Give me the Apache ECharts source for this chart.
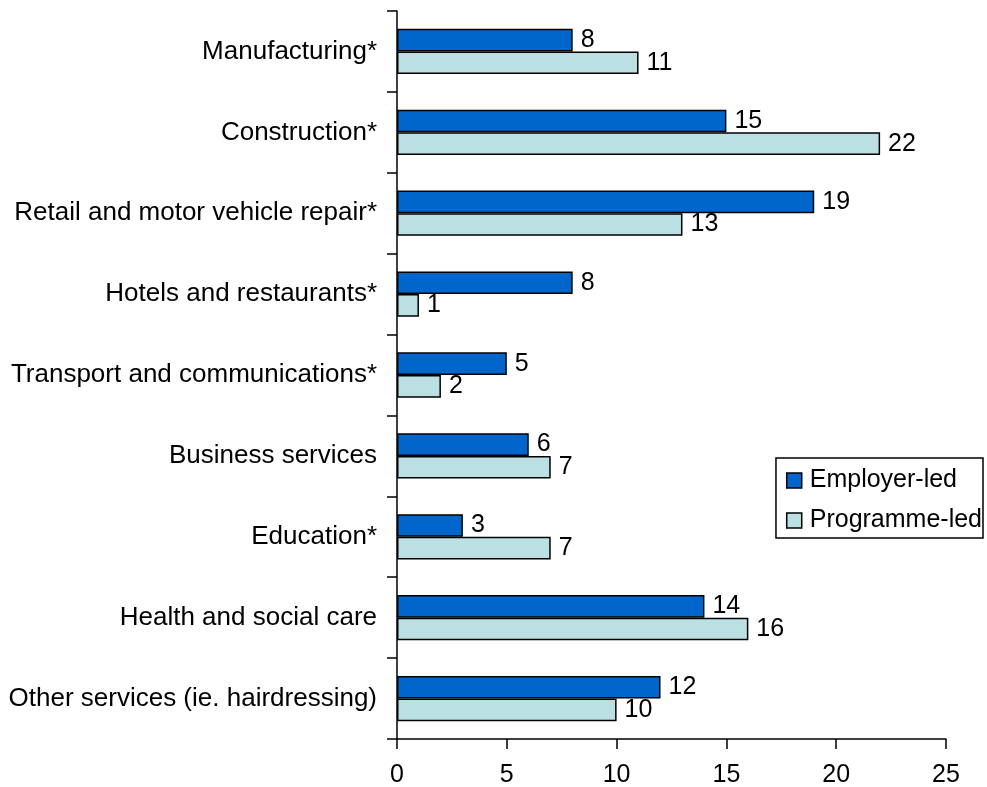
<!DOCTYPE html>
<html>
<head>
<meta charset="utf-8">
<script src="https://cdn.jsdelivr.net/npm/echarts@6/dist/echarts.min.js"></script>
<style>
  html, body { margin: 0; padding: 0; background: #ffffff; }
  #chart { width: 987px; height: 787px; }
</style>
</head>
<body>
<div id="chart"></div>
<script>
// Sectors, listed top to bottom
const categories = [
  'Manufacturing*',
  'Construction*',
  'Retail and motor vehicle repair*',
  'Hotels and restaurants*',
  'Transport and communications*',
  'Business services',
  'Education*',
  'Health and social care',
  'Other services (ie. hairdressing)'
];
const employerLed = [8, 15, 19, 8, 5, 6, 3, 14, 12];
const programmeLed = [11, 22, 13, 1, 2, 7, 7, 16, 10];
const xTicks = { min: 0, max: 25, interval: 5 };

const font = 'Liberation Sans, Arial, sans-serif';
const fontSize = 25;
const chart = echarts.init(document.getElementById('chart'));

const barLabel = {
  show: true,
  position: 'right',
  distance: 8,
  color: '#000',
  fontSize: fontSize,
  fontFamily: font
};

chart.setOption({
  animation: false,
  backgroundColor: '#ffffff',
  grid: { left: 397, right: 41, top: 11, bottom: 48, containLabel: false, outerBoundsMode: 'none' },
  legend: {
    orient: 'vertical',
    right: 4,
    top: 458,
    data: ['Employer-led', 'Programme-led'],
    itemWidth: 15,
    itemHeight: 15,
    itemGap: 15,
    icon: 'rect',
    borderColor: '#000',
    borderWidth: 1.5,
    borderRadius: 0,
    padding: [10, 1, 5, 10],
    textStyle: { fontSize: fontSize, color: '#000', fontFamily: font, padding: [0, 0, 0, 3] },
    itemStyle: { borderColor: '#000', borderWidth: 1.5 }
  },
  xAxis: {
    type: 'value',
    min: xTicks.min,
    max: xTicks.max,
    interval: xTicks.interval,
    axisLine: { show: true, lineStyle: { color: '#000', width: 1.5 } },
    axisTick: { show: true, length: 10, lineStyle: { color: '#000', width: 1.5 } },
    axisLabel: { margin: 24, fontSize: fontSize, color: '#000', fontFamily: font },
    splitLine: { show: false }
  },
  yAxis: {
    type: 'category',
    inverse: true,
    data: categories,
    axisLine: { show: true, lineStyle: { color: '#000', width: 1.5 } },
    axisTick: { show: true, length: 10, alignWithLabel: false, lineStyle: { color: '#000', width: 1.5 } },
    axisLabel: { margin: 20, fontSize: 26, color: '#000', fontFamily: font }
  },
  series: [
    {
      name: 'Employer-led',
      type: 'bar',
      data: employerLed,
      barGap: '0%',
      barCategoryGap: '44%',
      itemStyle: { color: '#0066cc', borderColor: '#000', borderWidth: 1.5 },
      label: barLabel
    },
    {
      name: 'Programme-led',
      type: 'bar',
      data: programmeLed,
      barGap: '0%',
      barCategoryGap: '44%',
      itemStyle: { color: '#bbe0e3', borderColor: '#000', borderWidth: 1.5 },
      label: barLabel
    }
  ]
});
</script>
</body>
</html>
